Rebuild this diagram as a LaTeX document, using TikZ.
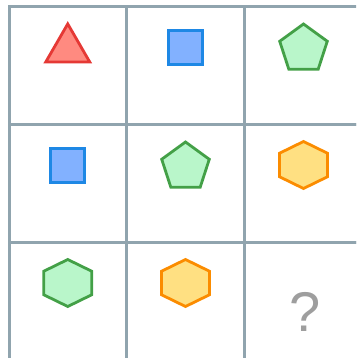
\documentclass[tikz,border=0pt]{standalone}
\usepackage{fontspec}
\setsansfont{Liberation Sans}
\usepackage{xcolor}
\definecolor{grilleGris}{HTML}{90A4AE}
\definecolor{rougeFond}{HTML}{FF8A80}
\definecolor{rougeTrait}{HTML}{E53935}
\definecolor{bleuFond}{HTML}{82B1FF}
\definecolor{bleuTrait}{HTML}{1E88E5}
\definecolor{vertFond}{HTML}{B9F6CA}
\definecolor{vertTrait}{HTML}{43A047}
\definecolor{orangeFond}{HTML}{FFE082}
\definecolor{orangeTrait}{HTML}{FB8C00}
\definecolor{inconnueGris}{HTML}{9E9E9E}
\usepackage{tikz}
\usetikzlibrary{shapes.geometric}
\tikzset{
  %% ── Grid ─────────────────────────────────────────────────────────────
  grille/.style     = {draw=grilleGris, line width=3pt},
  %%
  %% ── Figures ──────────────────────────────────────────────────────────
  %% One stroke weight for every figure; only the colour pair changes.
  figure/.style     = {inner sep=0pt, outer sep=0pt, line width=2.8pt,
                       line join=miter},
  triangleRouge/.style = {figure, regular polygon, regular polygon sides=3,
                       minimum size=50.8pt, fill=rougeFond, draw=rougeTrait},
  carreBleu/.style  = {figure, rectangle, minimum size=34pt,
                       fill=bleuFond, draw=bleuTrait},
  pentaVert/.style  = {figure, regular polygon, regular polygon sides=5,
                       minimum size=50pt, fill=vertFond, draw=vertTrait},
  hexa/.style       = {figure, regular polygon, regular polygon sides=6,
                       shape border rotate=30, minimum size=47pt, xscale=1.18},
  hexaVert/.style   = {hexa, fill=vertFond, draw=vertTrait},
  hexaOrange/.style = {hexa, fill=orangeFond, draw=orangeTrait},
  %%
  %% ── Text ─────────────────────────────────────────────────────────────
  inconnue/.style   = {font=\sffamily\fontsize{56}{60}\selectfont,
                       text=inconnueGris, inner sep=0pt},
}

\begin{document}
\begin{tikzpicture}[x=1pt, y=-1pt]

\useasboundingbox (0, 0) rectangle (356, 358);
\clip (0, 0) rectangle (356, 358);

% the 3x3 board, cut off on the right and at the bottom
\foreach \i in {0, 1, 2}
  \foreach \j in {0, 1, 2}
    \draw[grille] (9 + 117.5*\i, 7 + 117.5*\j) rectangle ++(117.5, 117.5);

% first row
\node[triangleRouge] (t11) at (67.75, 49.3) {};
\node[carreBleu]     (c12) at (185.5, 47.5) {};
\node[pentaVert]     (p13) at (303.5, 49)   {};

% second row
\node[carreBleu]     (c21) at (67.75, 165.3) {};
\node[pentaVert]     (p22) at (185.5, 167)   {};
\node[hexaOrange]    (h23) at (303.5, 165)   {};

% third row
\node[hexaVert]      (h31) at (67.75, 283) {};
\node[hexaOrange]    (h32) at (185.5, 283) {};
\node[inconnue]      (q33) at (304.7, 312) {?};

\end{tikzpicture}
\end{document}
